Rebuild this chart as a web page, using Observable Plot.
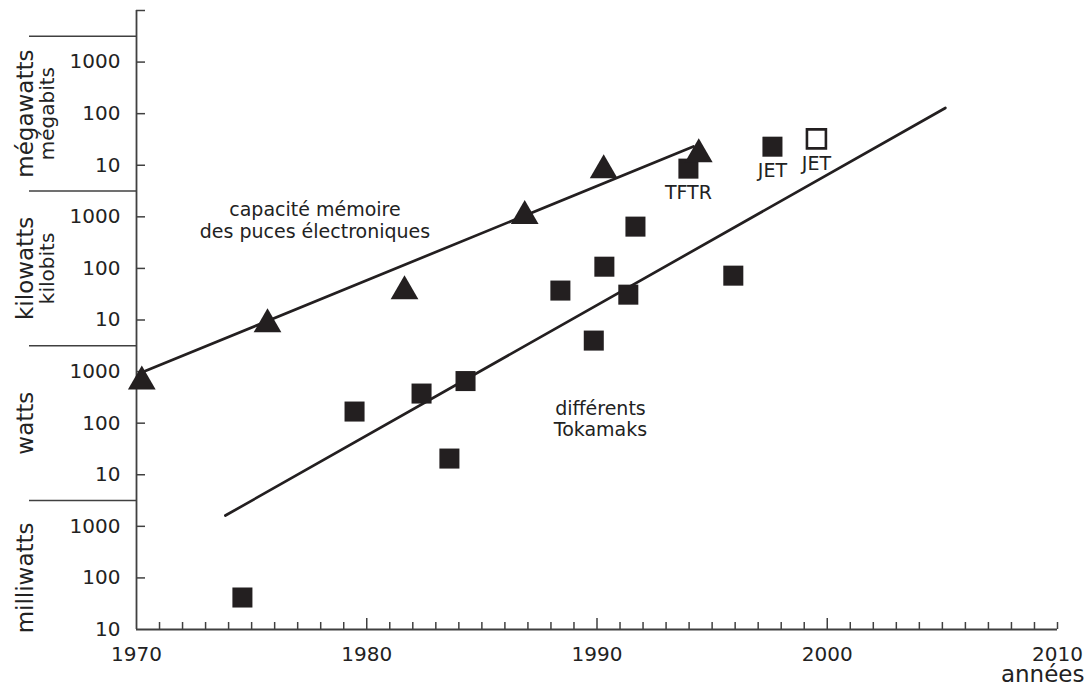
<!DOCTYPE html>
<html>
<head>
<meta charset="utf-8">
<script src="https://cdn.jsdelivr.net/npm/d3@7"></script>
<script src="https://cdn.jsdelivr.net/npm/@observablehq/plot@0.6"></script>
<style>
  html, body { margin: 0; padding: 0; background: #fff; }
  #chart svg { display: block; }
</style>
</head>
<body>
<div id="chart"></div>
<script>
// ---- data (y in W / bits, log scale) ----
const chipYears  = [1970.23, 1975.69, 1981.64, 1986.86, 1990.29, 1994.42];
const chipValues = [640, 8260, 36100, 1.04e6, 8.0e6, 1.63e7];

const tokamakYears  = [1974.60, 1979.47, 1982.38, 1983.59, 1984.29, 1988.41, 1989.86, 1990.32, 1991.36, 1991.67, 1993.97, 1995.92, 1997.62];
const tokamakValues = [0.0417, 168, 375, 20.6, 655, 37200, 3990, 108000, 31000, 646000, 8.6e6, 72400, 2.29e7];
const tokamakNames  = ["", "", "", "", "", "", "", "", "", "", "TFTR", "", "JET"];

const jetOpenYears  = [1999.53];
const jetOpenValues = [3.25e7];
const jetOpenNames  = ["JET"];

const chipTrendYears   = [1970.22, 1994.19];
const chipTrendValues  = [955, 2.32e7];
const tokamakTrendYears  = [1973.86, 2005.13];
const tokamakTrendValues = [1.62, 1.29e8];

const xTickYears = [1970, 1980, 1990, 2000, 2010];
const xMajorMinorYears = [1980, 1990, 2000];
const yTickValues = [1e-2, 1e-1, 1, 10, 100, 1e3, 1e4, 1e5, 1e6, 1e7, 1e8, 1e9];
const yTickLabels = ["10", "100", "1000", "10", "100", "1000", "10", "100", "1000", "10", "100", "1000"];
const yTickMarkValues = [1e-1, 1, 10, 100, 1e3, 1e4, 1e5, 1e6, 1e7, 1e8, 1e9, 1e10];
const separatorValues = [Math.pow(10, 0.5), Math.pow(10, 3.5), Math.pow(10, 6.5), Math.pow(10, 9.5)];

const unitLabels  = ["milliwatts", "watts", "kilowatts", "mégawatts"];
const unitCenters = [1e-1, 1e2, 1e5, 1e8];
const subUnitLabels  = ["kilobits", "mégabits"];
const subUnitCenters = [1e5, 1e8];

const annotationTexts  = ["capacité mémoire\ndes puces électroniques", "différents\nTokamaks"];
const annotationYears  = [1977.75, 1990.15];
const annotationValues = [8.6e5, 123];

const xAxisTitle = "années";

// ---- build tables ----
const ink = "#231f20";
const axisInk = "#404040";
const chips = chipYears.map((x, i) => ({x, y: chipValues[i]}));
const tokamaks = tokamakYears.map((x, i) => ({x, y: tokamakValues[i], name: tokamakNames[i]}));
const jetOpen = jetOpenYears.map((x, i) => ({x, y: jetOpenValues[i], name: jetOpenNames[i]}));
const chipTrend = chipTrendYears.map((x, i) => ({x, y: chipTrendValues[i]}));
const tokamakTrend = tokamakTrendYears.map((x, i) => ({x, y: tokamakTrendValues[i]}));
const units = unitLabels.map((t, i) => ({t, y: unitCenters[i]}));
const subUnits = subUnitLabels.map((t, i) => ({t, y: subUnitCenters[i]}));
const annotations = annotationTexts.map((t, i) => ({t, x: annotationYears[i], y: annotationValues[i]}));
const minorYears = d3.range(1971, 2011).filter(y => !xMajorMinorYears.includes(y));

const chart = Plot.plot({
  width: 1088,
  height: 693,
  marginLeft: 136,
  marginRight: 31,
  marginTop: 10,
  marginBottom: 64,
  style: {fontFamily: "'DejaVu Sans', sans-serif", color: "#222", background: "#fff"},
  x: {domain: [1970, 2010]},
  y: {type: "log", domain: [1e-2, 1e10]},
  marks: [
    // unit separators on the left
    Plot.ruleY(separatorValues, {y: d => d, insetLeft: -107, insetRight: 921, stroke: axisInk, strokeWidth: 1.5}),
    // y tick marks (inward)
    Plot.ruleY(yTickMarkValues, {y: d => d, insetRight: 912, stroke: axisInk, strokeWidth: 1.5}),
    // x tick marks (inward)
    Plot.ruleX(minorYears, {x: d => d, insetTop: 612, stroke: axisInk, strokeWidth: 1.5}),
    Plot.ruleX(xMajorMinorYears, {x: d => d, insetTop: 608, stroke: axisInk, strokeWidth: 1.5}),
    // axis lines
    Plot.ruleX([1970], {x: d => d, stroke: axisInk, strokeWidth: 1.8}),
    Plot.ruleY([1e-2], {y: d => d, stroke: axisInk, strokeWidth: 1.8}),
    // axis labels
    Plot.axisX({ticks: xTickYears, tickFormat: d => String(d), tickSize: 0, tickPadding: 17, fontSize: 20, label: null}),
    Plot.axisY({ticks: yTickValues, tickFormat: d => yTickLabels[yTickValues.indexOf(d)], tickSize: 0, tickPadding: 16, fontSize: 20, label: null}),
    // unit labels
    Plot.text(units, {y: "y", text: "t", frameAnchor: "left", dx: -111, rotate: -90, textAnchor: "middle", lineAnchor: "middle", fontSize: 23, fill: "#222"}),
    Plot.text(subUnits, {y: "y", text: "t", frameAnchor: "left", dx: -89, rotate: -90, textAnchor: "middle", lineAnchor: "middle", fontSize: 20, fill: "#222"}),
    Plot.text([xAxisTitle], {text: d => d, frameAnchor: "bottom-right", textAnchor: "end", lineAnchor: "middle", dx: 27, dy: 45, fontSize: 23, fill: "#222"}),
    // trend lines
    Plot.line(chipTrend, {x: "x", y: "y", stroke: ink, strokeWidth: 2.7}),
    Plot.line(tokamakTrend, {x: "x", y: "y", stroke: ink, strokeWidth: 2.7}),
    // tokamaks
    Plot.dot(tokamaks, {x: "x", y: "y", symbol: "square", r: 11.3, fill: ink}),
    Plot.dot(jetOpen, {x: "x", y: "y", symbol: "square", r: 10.7, fill: "#fff", stroke: ink, strokeWidth: 2.6}),
    // chips
    Plot.dot(chips, {x: "x", y: "y", symbol: "triangle", r: 10.3, fill: ink}),
    // point labels
    Plot.text(tokamaks.filter(d => d.name), {x: "x", y: "y", text: "name", dy: 24, fontSize: 19, fill: "#222"}),
    Plot.text(jetOpen, {x: "x", y: "y", text: "name", dy: 25, fontSize: 19, fill: "#222"}),
    // annotations
    Plot.text(annotations, {x: "x", y: "y", text: "t", fontSize: 19, lineHeight: 1.13, fill: "#222"})
  ]
});

document.getElementById("chart").appendChild(chart);
</script>
</body>
</html>
